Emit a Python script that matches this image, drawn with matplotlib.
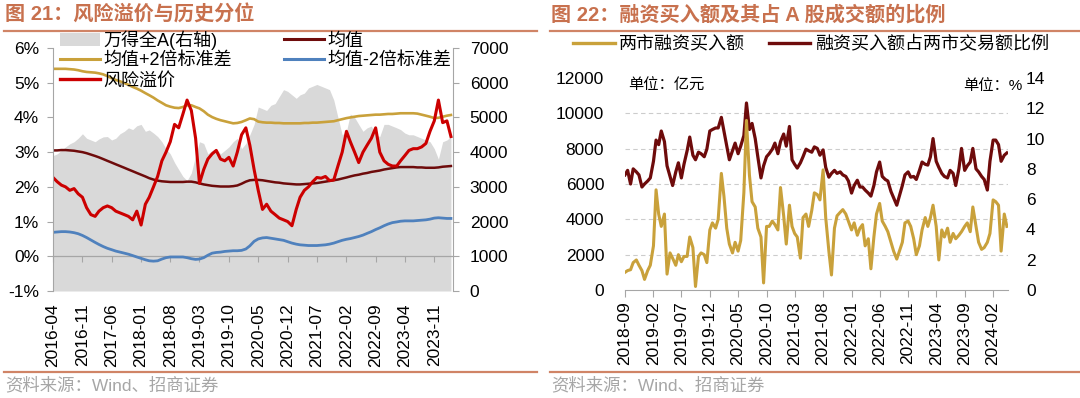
import matplotlib
matplotlib.use('Agg')
import matplotlib.pyplot as plt
import matplotlib.dates as mdates
from matplotlib.patches import Patch
from matplotlib.lines import Line2D
import pandas as pd

plt.rcParams['font.family'] = ['Liberation Sans', 'Noto Sans CJK SC']

# ---------------- data: figure 21 (monthly, 2016-04 .. 2024-03) ----------------
left_start = '2016-04-01'
left_ticklabels = ['2016-04', '2016-11', '2017-06', '2018-01', '2018-08', '2019-03', '2019-10',
                   '2020-05', '2020-12', '2021-07', '2022-02', '2022-09', '2023-04', '2023-11']

erp = [2.27, 2.15, 2.05, 2.0, 1.9, 1.95, 1.8, 1.7, 1.4, 1.2,
       1.15, 1.3, 1.4, 1.45, 1.4, 1.3, 1.25, 1.2, 1.15, 1.05,
       1.3, 0.9, 1.5, 1.7, 2.0, 2.3, 2.75, 3.0, 3.3, 3.8,
       3.7, 4.1, 4.5, 4.2, 3.4, 2.1, 2.5, 2.8, 2.95, 3.05,
       2.8, 2.75, 2.85, 2.6, 3.0, 3.5, 3.7, 3.2, 2.5, 1.9,
       1.35, 1.5, 1.3, 1.2, 1.1, 1.05, 1.0, 0.88, 1.35, 1.7,
       1.9, 2.0, 2.15, 2.27, 2.25, 2.3, 2.18, 2.2, 2.6, 3.0,
       3.6, 3.3, 3.0, 2.7, 3.0, 3.2, 3.4, 3.7, 3.0, 2.75,
       2.65, 2.6, 2.6, 2.75, 2.9, 3.05, 3.1, 3.1, 3.15, 3.25,
       3.6, 3.9, 4.5, 3.85, 3.9, 3.45]

wind_a = [3900, 3950, 4050, 4150, 4240, 4300, 4400, 4530, 4400, 4350,
          4300, 4380, 4440, 4450, 4350, 4400, 4530, 4600, 4700, 4650,
          4760, 4800, 4600, 4640, 4550, 4450, 4300, 4100, 3950, 3700,
          3500, 3300, 3180, 3400, 3900, 4300, 4250, 3950, 4050, 4100,
          3950, 4050, 4150, 4300, 4400, 4100, 4250, 4500, 4800, 5300,
          5250, 5200, 5350, 5400, 5600, 5800, 5750, 5650, 5550, 5650,
          5700, 5850, 5900, 5950, 5900, 5850, 5800, 5500, 5000, 4500,
          4600, 5100, 5000, 4800, 4600, 4700, 4750, 4500, 4450, 4800,
          4800, 4750, 4700, 4650, 4550, 4500, 4500, 4450, 4400, 4350,
          4300, 4100, 3800, 4300, 4350, 4450]

upper = [5.40, 5.40, 5.40, 5.40, 5.39, 5.38, 5.36, 5.33, 5.31, 5.30,
         5.29, 5.27, 5.24, 5.19, 5.13, 5.08, 5.04, 4.99, 4.94, 4.88,
         4.83, 4.77, 4.70, 4.64, 4.57, 4.49, 4.42, 4.35, 4.31, 4.28,
         4.27, 4.30, 4.35, 4.35, 4.30, 4.26, 4.18, 4.08, 4.01, 3.96,
         3.92, 3.89, 3.86, 3.83, 3.84, 3.87, 3.92, 3.97, 3.95, 3.88,
         3.86, 3.85, 3.85, 3.84, 3.84, 3.83, 3.83, 3.83, 3.83, 3.83,
         3.84, 3.84, 3.85, 3.85, 3.86, 3.87, 3.88, 3.89, 3.92, 3.95,
         3.98, 4.00, 4.02, 4.04, 4.05, 4.06, 4.07, 4.08, 4.08, 4.09,
         4.10, 4.10, 4.11, 4.12, 4.12, 4.12, 4.12, 4.11, 4.08, 4.05,
         4.02, 3.98, 3.99, 4.02, 4.05, 4.07]

mean = [3.05, 3.05, 3.06, 3.06, 3.05, 3.04, 3.02, 3.00, 2.97, 2.93,
        2.89, 2.85, 2.80, 2.75, 2.70, 2.65, 2.60, 2.55, 2.50, 2.45,
        2.40, 2.35, 2.30, 2.25, 2.21, 2.18, 2.16, 2.15, 2.14, 2.14,
        2.14, 2.14, 2.15, 2.15, 2.13, 2.10, 2.07, 2.05, 2.03, 2.02,
        2.01, 2.01, 2.01, 2.02, 2.04, 2.09, 2.15, 2.19, 2.20, 2.20,
        2.19, 2.17, 2.15, 2.13, 2.12, 2.10, 2.09, 2.08, 2.07, 2.07,
        2.08, 2.09, 2.10, 2.11, 2.13, 2.15, 2.17, 2.19, 2.21, 2.24,
        2.27, 2.30, 2.33, 2.35, 2.38, 2.40, 2.43, 2.45, 2.47, 2.50,
        2.52, 2.54, 2.56, 2.57, 2.57, 2.57, 2.57, 2.56, 2.56, 2.55,
        2.55, 2.55, 2.56, 2.58, 2.59, 2.60]

lower = [0.69, 0.70, 0.71, 0.71, 0.70, 0.68, 0.65, 0.60, 0.54, 0.47,
         0.40, 0.34, 0.28, 0.23, 0.19, 0.15, 0.12, 0.09, 0.06, 0.02,
         -0.02, -0.06, -0.10, -0.13, -0.14, -0.13, -0.08, -0.04, -0.02, -0.02,
         -0.02, -0.02, -0.04, -0.07, -0.09, -0.08, -0.04, 0.03, 0.09, 0.11,
         0.12, 0.14, 0.15, 0.16, 0.16, 0.17, 0.21, 0.30, 0.43, 0.50,
         0.53, 0.54, 0.52, 0.50, 0.48, 0.46, 0.42, 0.38, 0.35, 0.33,
         0.32, 0.31, 0.31, 0.31, 0.32, 0.33, 0.35, 0.38, 0.42, 0.46,
         0.49, 0.51, 0.54, 0.57, 0.61, 0.66, 0.71, 0.77, 0.82, 0.88,
         0.93, 0.97, 0.99, 1.01, 1.02, 1.02, 1.02, 1.03, 1.04, 1.05,
         1.07, 1.10, 1.11, 1.10, 1.09, 1.09]

# ---------------- data: figure 22 (semi-monthly, 2018-09 .. 2024-04) ----------------
right_start = '2018-09-01'
right_ticklabels = ['2018-09', '2019-02', '2019-07', '2019-12', '2020-05', '2020-10', '2021-03',
                    '2021-08', '2022-01', '2022-06', '2022-11', '2023-04', '2023-09', '2024-02']

margin_buy = [1000, 1100, 1150, 1550, 1700, 1400, 1100, 600, 1100, 1400,
              2500, 5670, 4300, 3600, 4300, 900, 2100, 1800, 1400, 2000,
              1600, 1900, 1900, 3000, 2400, 200, 1900, 2100, 2000, 1550,
              3400, 3800, 3500, 4000, 6600, 5300, 3500, 2600, 2100, 2700,
              2200, 2800, 5500, 9600, 6500, 5000, 4700, 3500, 3000, 400,
              3600, 3600, 3900, 3700, 3400, 5800, 4200, 2600, 4800, 3600,
              3200, 3000, 1800, 4100, 4300, 3600, 4500, 5500, 5400, 5100,
              6800, 4100, 2200, 850, 3500, 4200, 4400, 4550, 4300, 3900,
              3400, 3800, 3100, 3500, 3700, 2500, 2900, 1200, 3000, 4300,
              4900, 3900, 3600, 3300, 2700, 2200, 1750, 2200, 2700, 3800,
              3900, 3600, 2900, 2000, 2500, 3400, 4100, 3600, 4100, 4800,
              3600, 1700, 3400, 3000, 3500, 2700, 3200, 2900, 3100, 3300,
              3600, 3800, 3300, 4700, 3600, 2700, 2300, 2400, 2700, 3200,
              5100, 5000, 4800, 2200, 4300, 3600]

margin_ratio = [7.6, 7.9, 7.0, 8.0, 7.8, 7.6, 6.8, 7.0, 7.2, 7.4,
                8.5, 9.9, 9.6, 10.5, 9.8, 8.2, 7.5, 6.9, 7.8, 8.4,
                7.4, 8.3, 9.2, 10.1, 8.9, 8.6, 9.1, 9.0, 8.8, 9.3,
                10.5, 10.6, 10.7, 10.7, 11.4, 10.5, 9.5, 8.6, 9.2, 9.7,
                9.0, 9.5, 10.2, 12.35, 10.6, 11.0, 10.0, 8.8, 7.4, 8.2,
                8.8, 9.0, 9.3, 9.7, 9.0, 9.8, 10.3, 9.5, 10.8, 8.6,
                8.3, 8.05, 8.4, 8.8, 9.3, 9.2, 9.1, 9.45, 9.35, 8.9,
                9.25, 8.1, 7.45, 7.7, 7.9, 7.7, 7.8, 7.6, 7.5, 7.2,
                6.4, 6.9, 7.25, 6.8, 6.8, 6.6, 6.4, 6.2, 6.9, 7.8,
                8.45, 7.5, 7.3, 7.2, 6.5, 6.1, 5.6, 6.2, 6.9, 7.6,
                7.8, 7.45, 7.5, 7.3, 7.9, 8.45, 8.3, 8.25, 8.8, 10.0,
                8.5, 8.1, 7.7, 7.5, 7.4, 7.9, 7.7, 6.9, 8.0, 9.35,
                7.9, 8.2, 8.45, 9.35, 8.0, 7.8, 7.5, 7.3, 6.6, 8.5,
                9.9, 9.9, 9.6, 8.5, 8.9, 9.05]

left_pct_ticks = [-1, 0, 1, 2, 3, 4, 5, 6]
left_idx_ticks = [0, 1000, 2000, 3000, 4000, 5000, 6000, 7000]
right_amt_ticks = [0, 2000, 4000, 6000, 8000, 10000, 12000]
right_pct_ticks = [0, 2, 4, 6, 8, 10, 12, 14]

# ---------------- style ----------------
TITLE_C = '#C8714E'
RULE_C = '#D08466'
SRC_C = '#A6A6A6'
GRAY = '#A6A6A6'
AREA_C = '#D9D9D9'
GOLD = '#C9A13B'
DARKRED = '#6E0B0B'
RED = '#CC0000'
BLUE = '#4F81BD'
TICK_FS = 12.5
LEG_FS = 13

W, H = 1080, 398
def fx(px):
    return px / W
def fy(py):
    return 1 - py / H

fig = plt.figure(figsize=(W / 100, H / 100), dpi=100)

# titles, rules, sources
for x0, x1, title in [(4, 537, '图 21：风险溢价与历史分位'),
                      (550, 1080, '图 22：融资买入额及其占 A 股成交额的比例')]:
    fig.text(fx(x0 + 1), fy(15), title, fontsize=14.5, fontweight='bold',
             color=TITLE_C, ha='left', va='center')
    fig.add_artist(Line2D([fx(x0), fx(x1)], [fy(30.5), fy(30.5)], color=RULE_C, lw=1.6))
    fig.add_artist(Line2D([fx(x0), fx(x1)], [fy(372), fy(372)], color=RULE_C, lw=1.6))
    fig.text(fx(x0 + 1), fy(385), '资料来源：Wind、招商证券', fontsize=12.5,
             color=SRC_C, ha='left', va='center')

# ---------------- left chart ----------------
dates_l = pd.date_range(left_start, periods=len(erp), freq='MS')
ticks_l = pd.to_datetime(left_ticklabels, format='%Y-%m')

ax1 = fig.add_axes([fx(53), fy(291), fx(453) - fx(53), fy(48) - fy(291)])
ax1b = ax1.twinx()
ax1.set_zorder(ax1b.get_zorder() + 1)
ax1.patch.set_visible(False)

ax1b.fill_between(dates_l, wind_a, 0, color=AREA_C, lw=0)
ax1b.set_ylim(0, 7000)
ax1b.set_yticks(left_idx_ticks)
ax1b.set_yticklabels([str(v) for v in left_idx_ticks])

ax1.plot(dates_l, upper, color=GOLD, lw=1.9)
ax1.plot(dates_l, mean, color=DARKRED, lw=1.8)
ax1.plot(dates_l, lower, color=BLUE, lw=2.0)
ax1.plot(dates_l, erp, color=RED, lw=2.2)
ax1.set_ylim(-1, 6)
ax1.set_yticks(left_pct_ticks)
ax1.set_yticklabels([f'{v}%' for v in left_pct_ticks])
ax1.set_xlim(dates_l[0], pd.Timestamp('2024-03-16'))
ax1.set_xticks(ticks_l)
ax1.set_xticklabels(left_ticklabels, rotation=90)
ax1.tick_params(axis='x', length=0, pad=9, labelsize=TICK_FS)
ax1.tick_params(axis='y', length=4, color=GRAY, pad=6, labelsize=TICK_FS)
ax1b.tick_params(axis='y', length=4, color=GRAY, pad=8, labelsize=TICK_FS)
for s in ['top', 'right', 'bottom']:
    ax1.spines[s].set_visible(False)
ax1.spines['left'].set_color(GRAY)
for s in ['top', 'left', 'bottom']:
    ax1b.spines[s].set_visible(False)
ax1b.spines['right'].set_color(GRAY)

sec = ax1.secondary_xaxis(0, transform=ax1.transData)
sec.set_xticks(mdates.date2num(ticks_l))
sec.tick_params(axis='x', length=4, color=GRAY, labelbottom=False)
sec.spines['bottom'].set_color(GRAY)
sec.spines['bottom'].set_linewidth(0.9)

h_left = [Patch(facecolor=AREA_C, edgecolor='none'),
          Line2D([], [], color=GOLD, lw=2.2),
          Line2D([], [], color=RED, lw=2.4),
          Line2D([], [], color=DARKRED, lw=2.2),
          Line2D([], [], color=BLUE, lw=2.2)]
l_left = ['万得全A(右轴)', '均值+2倍标准差', '风险溢价', '均值', '均值-2倍标准差']
fig.legend(h_left, l_left, ncol=2, loc='upper left', bbox_to_anchor=(fx(60), fy(30)),
           bbox_transform=fig.transFigure, frameon=False, fontsize=LEG_FS,
           handlelength=2.2, handletextpad=0.2, columnspacing=2.9, labelspacing=0.16,
           borderpad=0, borderaxespad=0)

# ---------------- right chart ----------------
dates_r = pd.date_range(right_start, periods=len(margin_buy), freq='SMS')
ticks_r = pd.to_datetime(right_ticklabels, format='%Y-%m')

ax2 = fig.add_axes([fx(625), fy(290), fx(1008) - fx(625), fy(78) - fy(290)])
ax2b = ax2.twinx()
ax2.set_zorder(ax2b.get_zorder() + 1)
ax2.patch.set_visible(False)

ax2b.plot(dates_r, margin_ratio, color=DARKRED, lw=2.3)
ax2.plot(dates_r, margin_buy, color=GOLD, lw=2.2)

ax2.set_ylim(0, 12000)
ax2.set_yticks(right_amt_ticks)
ax2.set_yticklabels([str(v) for v in right_amt_ticks])
ax2b.set_ylim(0, 14)
ax2b.set_yticks(right_pct_ticks)
ax2b.set_yticklabels([str(v) for v in right_pct_ticks])
# gridlines at the left-axis ticks, drawn behind both series
ax2b.set_yticks([v * 14 / 12000 for v in right_amt_ticks], minor=True)
ax2b.grid(which='minor', axis='y', color='#CCCCCC', ls=(0, (4, 3)), lw=0.8)
ax2b.tick_params(which='minor', length=0)

ax2.set_xlim(dates_r[0], pd.Timestamp('2024-04-21'))
ax2.set_xticks(ticks_r)
ax2.set_xticklabels(right_ticklabels, rotation=90)
ax2.tick_params(axis='x', length=5, color=GRAY, direction='out', pad=3, labelsize=TICK_FS)
ax2.tick_params(axis='y', length=0, pad=15, labelsize=TICK_FS)
ax2b.tick_params(axis='y', which='major', length=0, pad=13, labelsize=TICK_FS)
for s in ['top', 'right', 'left']:
    ax2.spines[s].set_visible(False)
ax2.spines['bottom'].set_color(GRAY)
for s in ['top', 'right', 'left', 'bottom']:
    ax2b.spines[s].set_visible(False)

fig.legend([Line2D([], [], color=GOLD, lw=2.4), Line2D([], [], color=DARKRED, lw=2.4)],
           ['两市融资买入额', '融资买入额占两市交易额比例'], ncol=2, loc='center left',
           bbox_to_anchor=(fx(573), fy(45)), bbox_transform=fig.transFigure, frameon=False,
           fontsize=LEG_FS, handlelength=2.3, handletextpad=0.25, columnspacing=1.3,
           borderpad=0, borderaxespad=0)

fig.text(fx(628), fy(86), '单位：亿元', fontsize=11, ha='left', va='center')
fig.text(fx(1022), fy(86), '单位：%', fontsize=11, ha='right', va='center')

fig.savefig('out.png', dpi=100)
